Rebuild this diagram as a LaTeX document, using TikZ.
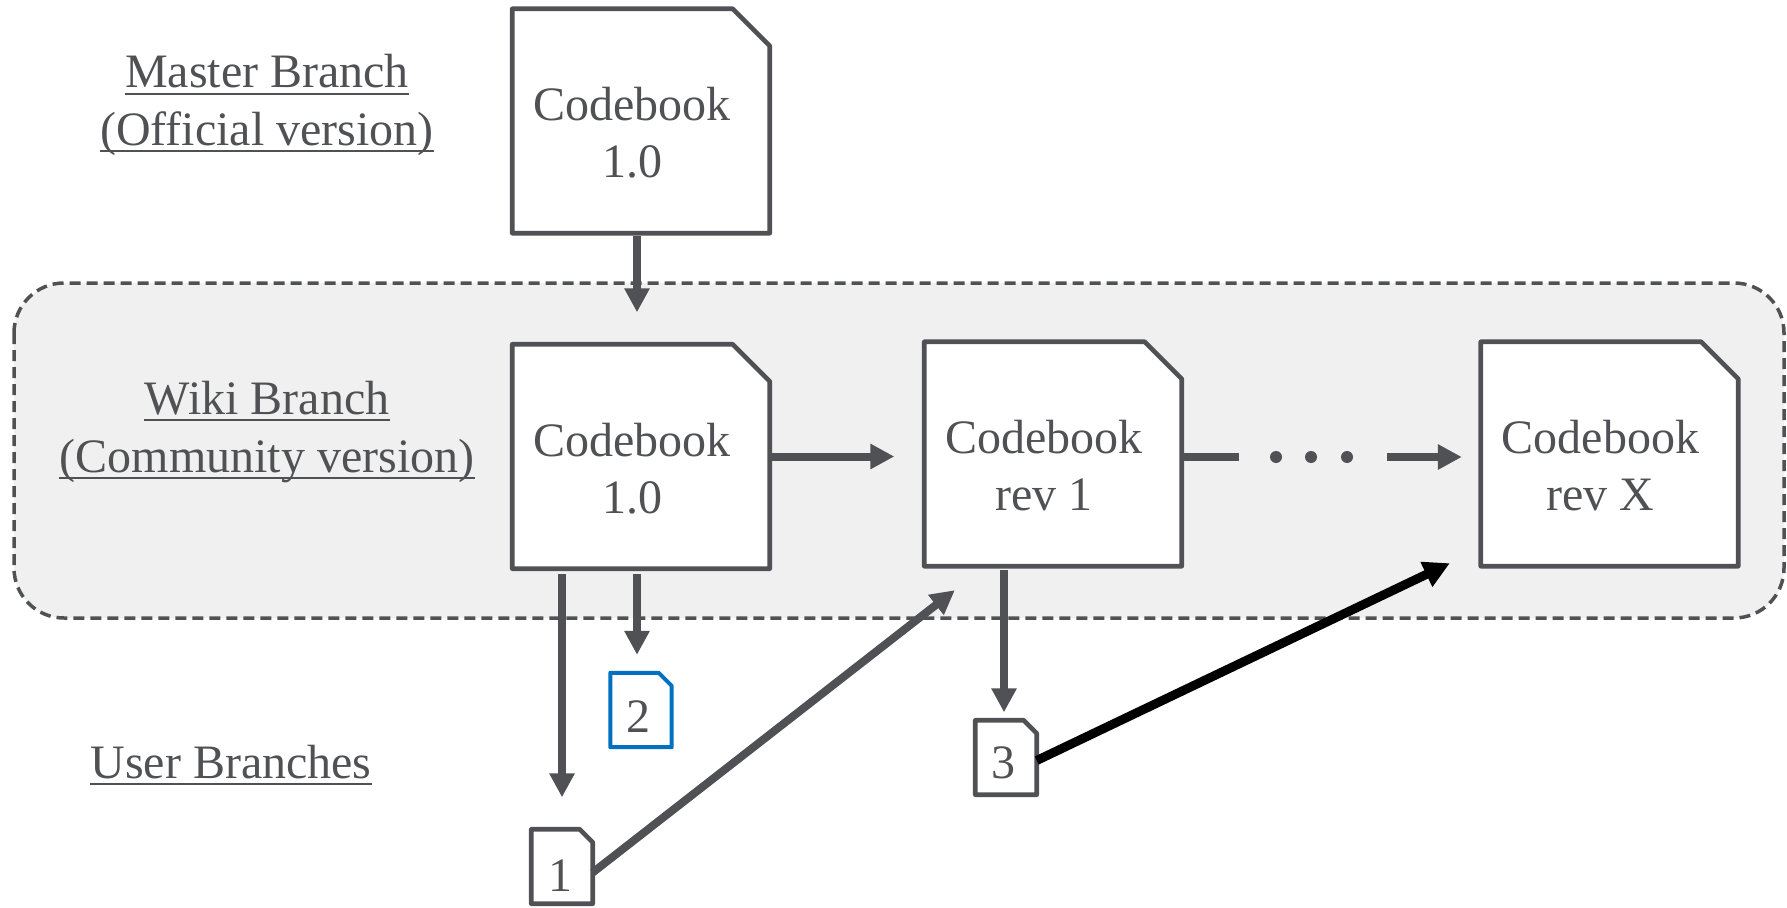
\documentclass[tikz,border=0pt]{standalone}
\usepackage{fontspec}
\setmainfont{Liberation Serif}
\usetikzlibrary{arrows.meta}

\definecolor{ink}{RGB}{80,81,85}
\definecolor{wikifill}{RGB}{240,240,240}
\definecolor{userblue}{RGB}{0,112,192}

% outline of a sheet with a clipped top-right corner, around a named node
\newcommand\docsheet[3][]{%
  \filldraw[sheet line,#1] (#2.south west) -- (#2.south east)
    -- ([yshift=-#3]#2.north east) -- ([xshift=-#3]#2.north east)
    -- (#2.north west) -- cycle;}

% underline under a named label node
\newcommand\underlabel[1]{%
  \draw[underrule] ([yshift=-6pt]#1.base west) -- ([yshift=-6pt]#1.base east);}

\tikzset{
  sheet line/.style={draw=ink, fill=white, line width=4.7pt, line join=round},
  bigsheet/.style={minimum width=257pt, minimum height=224pt, inner sep=0pt},
  smallsheet/.style={minimum width=61pt, minimum height=74pt, inner sep=0pt},
  sheettext/.style={font=\fontsize{48}{57}\selectfont, text=ink, align=center, inner sep=0pt},
  branchlabel/.style={font=\fontsize{48}{57}\selectfont, text=ink, anchor=base, inner sep=0pt},
  underrule/.style={draw=ink, line width=2.5pt},
  flow/.style={draw=ink, line width=8pt},
  flowarrow/.style={flow, -{Triangle[length=24pt,width=24pt]}},
  mergearrow/.style={draw=black, line width=9pt, -{Triangle[length=26pt,width=26pt]}},
  wikiarea/.style={draw=ink, fill=wikifill, line width=3.5pt, dash pattern=on 11pt off 6pt, rounded corners=50pt},
}

\begin{document}
\begin{tikzpicture}[x=1pt,y=-1pt]
\useasboundingbox (0,0) rectangle (1787,907);

% shared wiki area
\draw[wikiarea] (14,283) rectangle (1784,618);

% branch labels
\node[branchlabel] (lm1) at (267,88) {Master Branch};
\node[branchlabel] (lm2) at (267,145) {(Official version)};
\node[branchlabel] (lw1) at (267,414) {Wiki Branch};
\node[branchlabel] (lw2) at (267,472) {(Community version)};
\node[branchlabel] (lu)  at (231,778) {User Branches};
\underlabel{lm1}
\underlabel{lm2}
\underlabel{lw1}
\underlabel{lw2}
\underlabel{lu}

% codebook sheets
\node[bigsheet] (m)    at (641,121) {};
\node[bigsheet] (w1)   at (641,456.5) {};
\node[bigsheet] (rev1) at (1053,454) {};
\node[bigsheet] (revx) at (1609.5,454) {};
\docsheet{m}{37pt}
\docsheet{w1}{37pt}
\docsheet{rev1}{37pt}
\docsheet{revx}{37pt}

\node[sheettext] (tm)    at ([xshift=-9pt,yshift=-12pt]m.center) {Codebook\\1.0};
\node[sheettext] (tw1)   at ([xshift=-9pt,yshift=-12pt]w1.center) {Codebook\\1.0};
\node[sheettext] (trev1) at ([xshift=-9pt,yshift=-12pt]rev1.center) {Codebook\\rev 1};
\node[sheettext] (trevx) at ([xshift=-9pt,yshift=-12pt]revx.center) {Codebook\\rev X};

% user sheets
\node[smallsheet] (u1) at (562,866.5) {};
\node[smallsheet] (u2) at (641,710) {};
\node[smallsheet] (u3) at (1006,757.5) {};
\docsheet{u1}{13pt}
\docsheet[draw=userblue,line width=4pt]{u2}{13pt}
\docsheet{u3}{13pt}
\node[sheettext] (tu1) at ([xshift=-2pt,yshift=-9pt]u1.center) {1};
\node[sheettext] (tu2) at ([xshift=-3pt,yshift=-7pt]u2.center) {2};
\node[sheettext] (tu3) at ([xshift=-3pt,yshift=-5pt]u3.center) {3};

% master to wiki, and along the wiki branch
\draw[flowarrow] ([xshift=-4pt,yshift=-3pt]m.south) -- ([xshift=-4pt,yshift=32pt]w1.north);
\draw[flowarrow] (w1.east) -- ([xshift=-30pt]rev1.west |- w1.east);
\coordinate (gapstart) at (1239,457);
\coordinate (gapend) at (1387,457);
\draw[flow] ([yshift=-3pt]rev1.east) -- (gapstart);
\fill[ink] (1276,457) circle (6pt);
\fill[ink] (1311,457) circle (6pt);
\fill[ink] (1347,457) circle (6pt);
\draw[flowarrow] (gapend) -- ([xshift=-19pt,yshift=-3pt]revx.west);

% branching off to users
\draw[flowarrow] ([yshift=-5pt]w1.south -| u1.north) -- ([yshift=32pt]u1.north);
\draw[flowarrow] ([xshift=-4pt,yshift=-5pt]w1.south) -- ([xshift=-4pt,yshift=18pt]u2.north);
\draw[flowarrow] ([xshift=-2pt,yshift=-4pt]rev1.south -| u3.north) -- ([xshift=-2pt,yshift=8pt]u3.north);

% user edits merged back
\draw[flowarrow] ([yshift=-6pt]u1.east) -- ([xshift=30.5pt,yshift=-24pt]rev1.south west);
\draw[mergearrow] ([yshift=-3pt]u3.east) -- ([xshift=-31pt,yshift=3pt]revx.south west);
\end{tikzpicture}
\end{document}
